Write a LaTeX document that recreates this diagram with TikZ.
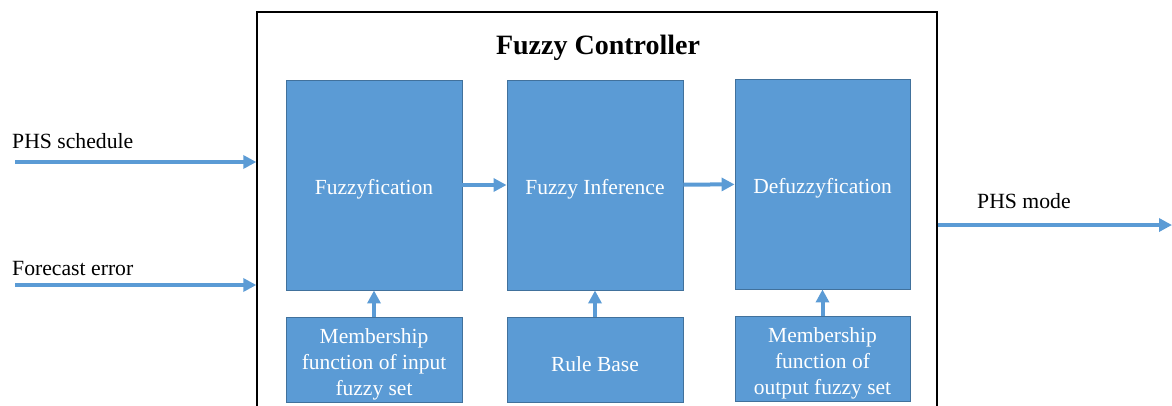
\documentclass[tikz,border=0pt]{standalone}
\usepackage{fontspec}
\setmainfont{Liberation Serif}
\usetikzlibrary{arrows.meta}
\definecolor{boxblue}{HTML}{5B9BD5}
\definecolor{boxedge}{HTML}{41719C}
\newcommand{\mystrut}{\rule{0pt}{24pt}}
\begin{document}
\begin{tikzpicture}[x=1pt,y=-1pt,
  blk/.style={draw=boxedge,line width=0.9pt,fill=boxblue,text=white,minimum width=176pt,inner sep=2pt,align=center,font=\fontsize{21.5}{26}\selectfont},
  tall/.style={blk,minimum height=210pt},
  short/.style={blk,minimum height=85pt},
  arr/.style={draw=boxblue,line width=4pt,-{Triangle[length=13pt,width=13pt]}},
  lbl/.style={inner sep=0pt,font=\fontsize{21.7}{26}\selectfont}]
\useasboundingbox (0,0) rectangle (1172,405);
\node[draw=black,line width=1.4pt,minimum width=680pt,minimum height=408pt,inner sep=0pt] (ctrl) at (597,216) {};
\node[anchor=base,inner sep=0pt,font=\fontsize{28}{32}\selectfont\bfseries] (title) at (598,54) {Fuzzy Controller};
\node[tall] (fuzz) at (374,185) {\mystrut Fuzzyfication};
\node[tall] (inf) at (595,185) {\mystrut Fuzzy Inference};
\node[tall,minimum width=175pt] (defuzz) at (822.5,184) {\mystrut Defuzzyfication};
\node[short] (min) at (374,359.5) {\mystrut Membership\\function of input\\fuzzy set};
\node[short] (rule) at (595,359.5) {\mystrut Rule Base};
\node[short,minimum width=175pt] (mout) at (822.5,359) {\mystrut Membership\\function of\\output fuzzy set};
\draw[arr] (fuzz) -- (inf);
\draw[arr] (inf) -- (defuzz);
\draw[arr] (min) -- (fuzz);
\draw[arr] (rule) -- (inf);
\draw[arr] (mout) -- (defuzz);
\coordinate (in1) at (15,162);
\coordinate (in2) at (15,285);
\coordinate (out) at (1172,225);
\draw[arr] (in1) -- (in1 -| ctrl.west);
\draw[arr] (in2) -- (in2 -| ctrl.west);
\draw[arr] (out -| ctrl.east) -- (out);
\node[lbl,anchor=base west] (l1) at (12,148) {PHS schedule};
\node[lbl,anchor=base west] (l2) at (12,275) {Forecast error};
\node[lbl,anchor=base west] (l3) at (977,208) {PHS mode};
\end{tikzpicture}
\end{document}
